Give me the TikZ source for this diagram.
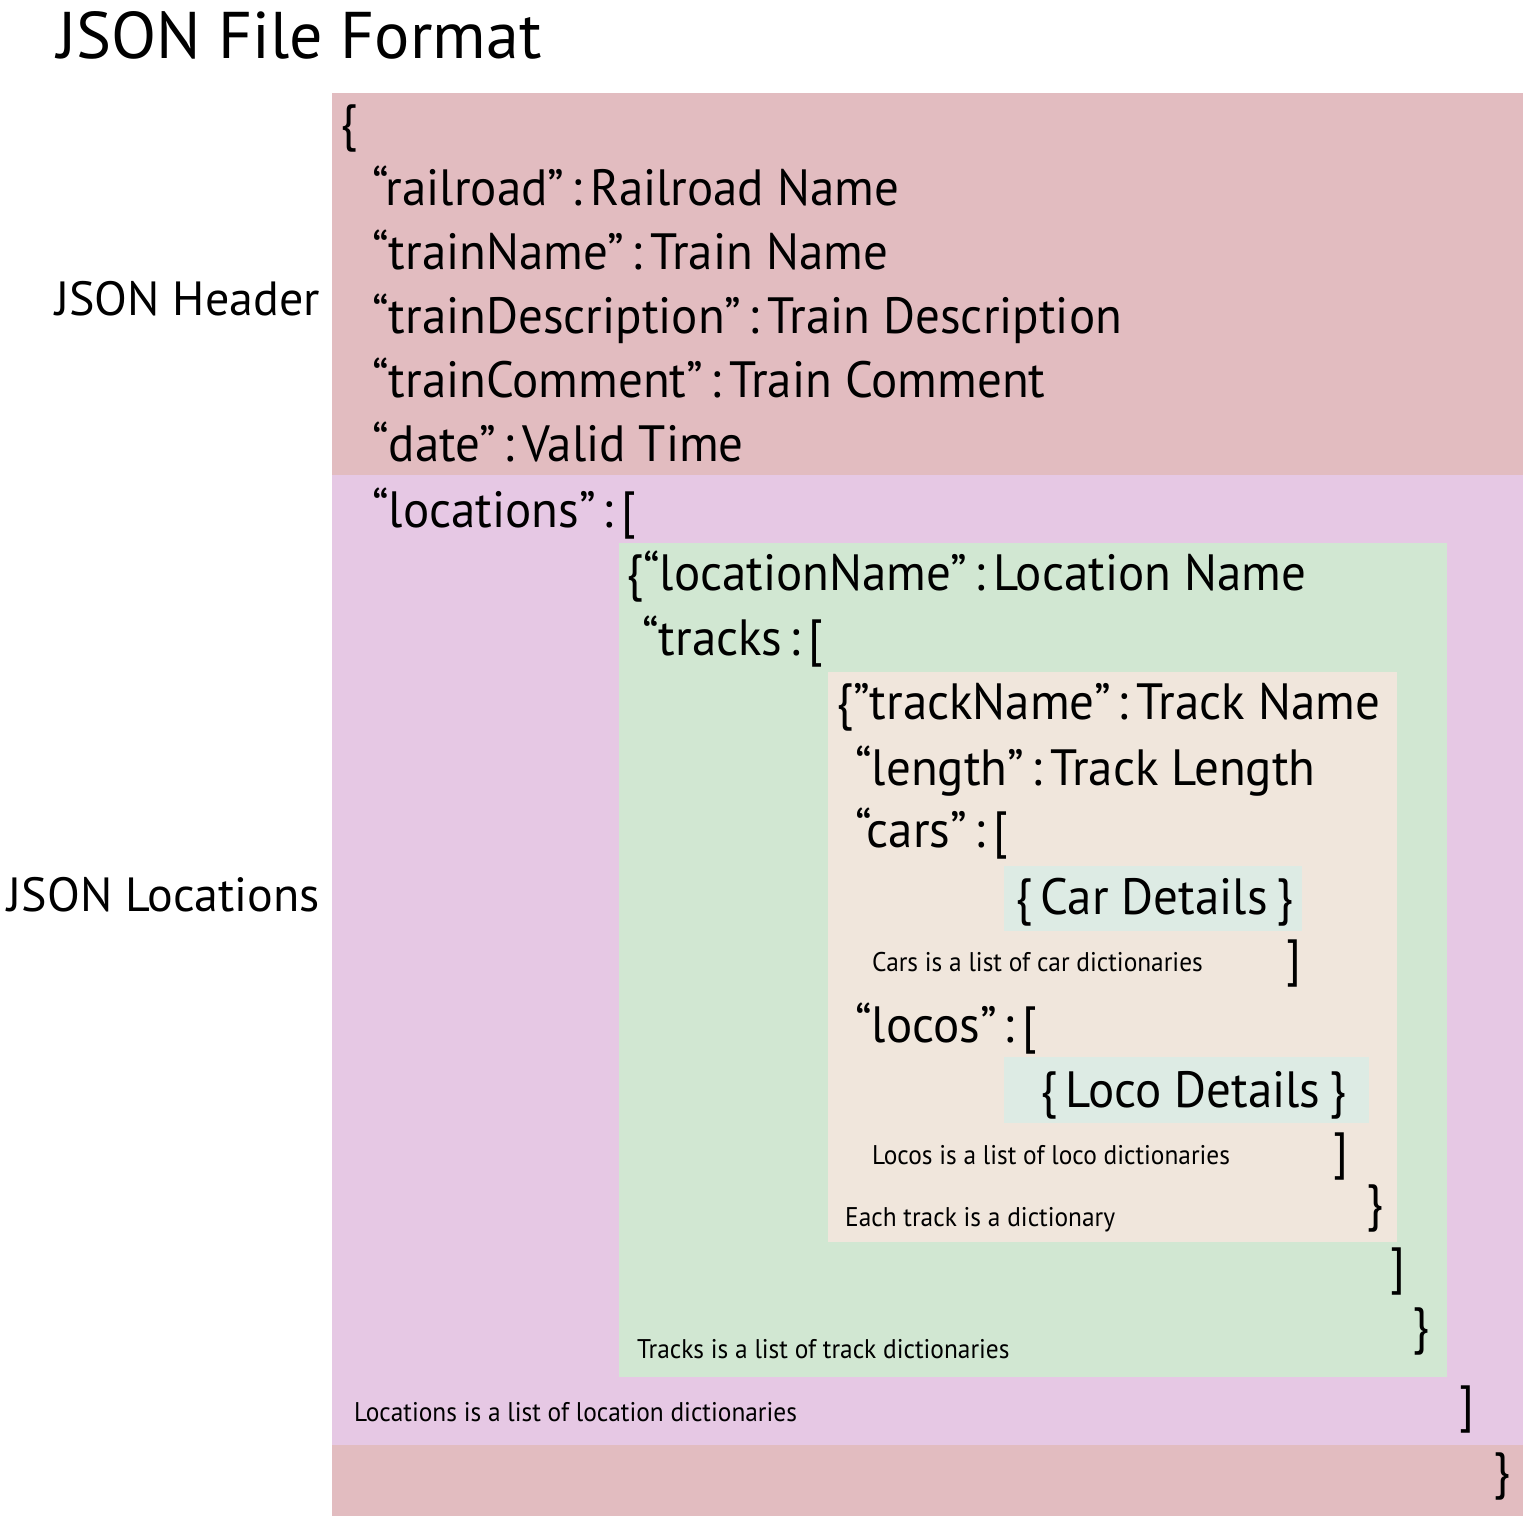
\documentclass[tikz,border=0pt]{standalone}
\usepackage{fontspec}
\setmainfont{PT Sans}
\newfontfamily\cond[FakeStretch=0.96]{PT Sans}
\newfontfamily\condsm[FakeStretch=0.94]{PT Sans}
\newcommand\cl{\hspace{0.14em}:\hspace{0.16em}}
\definecolor{hdrpink}{HTML}{E2BCC0}
\definecolor{locpurple}{HTML}{E6C8E4}
\definecolor{locgreen}{HTML}{D1E7D2}
\definecolor{trkbeige}{HTML}{F0E6DC}
\definecolor{detbox}{HTML}{DDEBE4}
\begin{document}
\begin{tikzpicture}[x=1pt,y=-1pt,
  big/.style={anchor=base west,inner sep=0pt,font=\cond\fontsize{51}{60}\selectfont},
  small/.style={anchor=base west,inner sep=0pt,font=\condsm\fontsize{27}{32}\selectfont},
  lbl/.style={anchor=base east,inner sep=0pt,font=\fontsize{48}{56}\selectfont},
  ttl/.style={anchor=base west,inner sep=0pt,font=\fontsize{66}{76}\selectfont}]
\useasboundingbox (0,0) rectangle (1523,1516);
% regions
\fill[hdrpink] (332,93) rectangle (1523,475);
\fill[locpurple] (332,475) rectangle (1523,1445);
\fill[hdrpink] (332,1445) rectangle (1523,1516);
\fill[locgreen] (619,543) rectangle (1447,1377);
\fill[trkbeige] (828,672) rectangle (1397,1242);
\fill[detbox] (1004,866) rectangle (1302,931);
\fill[detbox] (1004,1057) rectangle (1369,1123);
% title and labels
\node[ttl] (title) at (57,58) {JSON File Format};
\node[lbl] (hdr) at (320,315) {JSON Header};
\node[lbl] (locs) at (320,911) {JSON Locations};
% header
\node[big] (open) at (340,140) {\{};
\node[big] (rr) at (372,205) {“railroad”\cl Railroad Name};
\node[big] (tn) at (372,269) {“trainName”\cl Train Name};
\node[big] (td) at (372,333) {“trainDescription”\cl Train Description};
\node[big] (tc) at (372,397) {“trainComment”\cl Train Comment};
\node[big] (dt) at (372,461) {“date”\cl Valid Time};
% locations
\node[big] (lo) at (372,527) {“locations”\cl [};
\node[big] (ln) at (626,590) {\{“locationName”\cl Location Name};
\node[big] (tk) at (642,655) {“tracks\cl [};
\node[big] (tkn) at (836,719) {\{”trackName”\cl Track Name};
\node[big] (len) at (855,785) {“length”\cl Track Length};
\node[big] (cars) at (855,847) {“cars”\cl [};
\node[big] (cd) at (1015,914) {\{\hspace{0.17em}Car Details\hspace{0.17em}\}};
\node[small] (carsnote) at (872,971) {Cars is a list of car dictionaries};
\node[big] (carsclose) at (1286,975) {]};
\node[big] (locos) at (855,1042) {“locos”\cl [};
\node[big] (ld) at (1040,1107) {\{\hspace{0.17em}Loco Details\hspace{0.17em}\}};
\node[small] (locosnote) at (872,1164) {Locos is a list of loco dictionaries};
\node[big] (locosclose) at (1333,1168) {]};
\node[small] (tracknote) at (845,1226) {Each track is a dictionary};
\node[big] (trackclose) at (1366,1220) {\}};
\node[big] (tracksclose) at (1390,1283) {]};
\node[big] (locclose) at (1412,1343) {\}};
\node[small] (tracksnote) at (637,1358) {Tracks is a list of track dictionaries};
\node[small] (locsnote) at (354,1421) {Locations is a list of location dictionaries};
\node[big] (locsclose) at (1459,1421) {]};
\node[big] (close) at (1493,1488) {\}};
\end{tikzpicture}
\end{document}
